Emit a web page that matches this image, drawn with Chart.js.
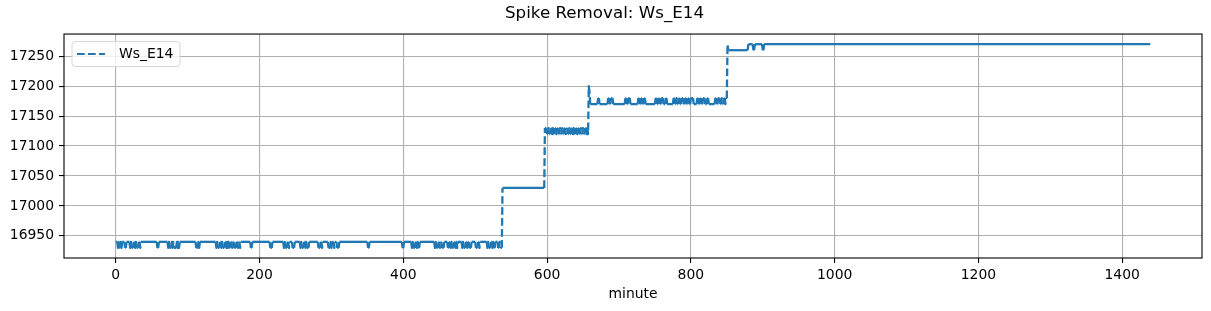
<!DOCTYPE html>
<html>
<head>
<meta charset="utf-8">
<script src="https://cdn.jsdelivr.net/npm/chart.js@4.4.1/dist/chart.umd.min.js"></script>
<style>
  html, body { margin: 0; padding: 0; background: #fff; }
</style>
</head>
<body>
<canvas id="chart" width="1211" height="311"></canvas>
<script>
// Ws_E14 readings: the value holds from each minute until the next change
var stepMinute = [
  0, 3, 4, 5, 7, 8, 9, 13, 15,
  20, 21, 22, 25, 27, 28, 29, 32, 34, 35, 58, 60,
  73, 74, 75, 78, 79, 80, 81, 85, 86, 87, 88, 89,
  112, 115, 116, 117,
  140, 141, 142, 145, 147, 148, 149, 152, 154, 155, 156,
  157, 158, 160, 162, 163, 165, 168, 170, 171, 173, 174,
  188, 190, 215, 218,
  234, 235, 236, 239, 241, 242, 246, 249,
  257, 258, 259, 262, 264, 265, 266, 269,
  282, 285, 287, 288,
  296, 299, 300, 301, 304, 305, 308, 311,
  351, 353, 399, 401,
  412, 413, 414, 417, 419, 420, 421, 423,
  444, 445, 446, 449, 451, 452, 454, 457,
  462, 464, 466, 467, 468, 471, 473, 474, 475, 476,
  482, 483, 484, 487, 489, 490, 492, 495,
  501, 504, 506, 507,
  517, 518, 519, 522, 524, 525, 526, 528,
  532, 534, 535,
  538,
  597, 600, 602, 603, 605, 607, 608, 609, 611, 613,
  614, 616, 618, 619, 621, 622, 624, 626, 627, 629,
  631, 632, 634, 636, 637, 638, 640, 642, 643, 645,
  647, 648, 650, 651, 653, 655, 656, 657,
  658, 659, 660,
  671, 673, 685, 687, 689, 692, 709, 711, 713, 716,
  727, 729, 731, 733, 735, 737, 751, 753, 755, 757,
  759, 762, 765, 767, 776, 778, 780, 781, 783, 785,
  787, 790, 792, 794, 796, 798, 800, 804, 809, 811,
  813, 815, 817, 820, 823, 825, 834, 836, 838, 841,
  843, 844, 846, 848, 849,
  851, 852, 880, 887, 889, 900, 902
];
var stepValue = [
  16940, 16930, 16940, 16930, 16940, 16930, 16940, 16930, 16940,
  16930, 16940, 16930, 16940, 16930, 16940, 16930, 16940, 16930, 16940, 16930, 16940,
  16930, 16940, 16930, 16940, 16930, 16940, 16930, 16940, 16930, 16940, 16930, 16940,
  16930, 16940, 16930, 16940,
  16930, 16940, 16930, 16940, 16930, 16940, 16930, 16940, 16930, 16940, 16930,
  16940, 16930, 16940, 16930, 16940, 16930, 16940, 16930, 16940, 16930, 16940,
  16930, 16940, 16930, 16940,
  16930, 16940, 16930, 16940, 16930, 16940, 16930, 16940,
  16930, 16940, 16930, 16940, 16930, 16940, 16930, 16940,
  16930, 16940, 16930, 16940,
  16930, 16940, 16930, 16940, 16930, 16940, 16930, 16940,
  16930, 16940, 16930, 16940,
  16930, 16940, 16930, 16940, 16930, 16940, 16930, 16940,
  16930, 16940, 16930, 16940, 16930, 16940, 16930, 16940,
  16930, 16940, 16930, 16940, 16930, 16940, 16930, 16940, 16930, 16940,
  16930, 16940, 16930, 16940, 16930, 16940, 16930, 16940,
  16930, 16940, 16930, 16940,
  16930, 16940, 16930, 16940, 16930, 16940, 16930, 16940,
  16930, 16940, 16930,
  17030,
  17130, 17120, 17130, 17120, 17130, 17120, 17130, 17120, 17130, 17120,
  17130, 17120, 17130, 17120, 17130, 17120, 17130, 17120, 17130, 17120,
  17130, 17120, 17130, 17120, 17130, 17120, 17130, 17120, 17130, 17120,
  17130, 17120, 17130, 17120, 17130, 17120, 17130, 17120,
  17200, 17190, 17170,
  17180, 17170, 17180, 17170, 17180, 17170, 17180, 17170, 17180, 17170,
  17180, 17170, 17180, 17170, 17180, 17170, 17180, 17170, 17180, 17170,
  17180, 17170, 17180, 17170, 17180, 17170, 17180, 17170, 17180, 17170,
  17180, 17170, 17180, 17170, 17180, 17170, 17180, 17170, 17180, 17170,
  17180, 17170, 17180, 17170, 17180, 17170, 17180, 17170, 17180, 17170,
  17180, 17170, 17180, 17170, 17180,
  17270, 17260, 17270, 17260, 17270, 17260, 17270
];
var lastMinute = 1439;

var xTicks = [0, 200, 400, 600, 800, 1000, 1200, 1400];
var yTicks = [16950, 17000, 17050, 17100, 17150, 17200, 17250];

// turn the runs into points: start and end of every run
var points = [];
for (var i = 0; i < stepMinute.length; i++) {
  var start = stepMinute[i];
  var end = i + 1 < stepMinute.length ? stepMinute[i + 1] - 1 : lastMinute;
  points.push({ x: start, y: stepValue[i] });
  if (end > start) points.push({ x: end, y: stepValue[i] });
}

var blue = '#1f77b4';
var dash = [7.7, 3.3];

var framePlugin = {
  id: 'frame',
  afterDatasetsDraw: function (chart) {
    var a = chart.chartArea, ctx = chart.ctx;
    ctx.save();
    ctx.strokeStyle = '#000';
    ctx.lineWidth = 1.1;
    ctx.strokeRect(a.left, a.top, a.right - a.left, a.bottom - a.top);
    ctx.restore();
  }
};

var legendPlugin = {
  id: 'insideLegend',
  afterDraw: function (chart) {
    var a = chart.chartArea, ctx = chart.ctx;
    var x = a.left + 8, y = a.top + 7.5, w = 108, h = 25;
    ctx.save();
    ctx.beginPath();
    ctx.roundRect(x, y, w, h, 3);
    ctx.fillStyle = 'rgba(255,255,255,0.8)';
    ctx.fill();
    ctx.strokeStyle = '#d6d6d6';
    ctx.lineWidth = 1;
    ctx.stroke();
    ctx.beginPath();
    ctx.setLineDash(dash);
    ctx.strokeStyle = blue;
    ctx.lineWidth = 2.1;
    ctx.moveTo(x + 5, y + 12.5);
    ctx.lineTo(x + 33, y + 12.5);
    ctx.stroke();
    ctx.setLineDash([]);
    ctx.fillStyle = '#000';
    ctx.font = '13.9px "DejaVu Sans"';
    ctx.textBaseline = 'middle';
    ctx.fillText(chart.data.datasets[0].label, x + 47, y + 12.5);
    ctx.restore();
  }
};

Chart.defaults.font.family = '"DejaVu Sans", sans-serif';
Chart.defaults.color = '#000';

new Chart(document.getElementById('chart'), {
  type: 'line',
  data: {
    datasets: [{
      label: 'Ws_E14',
      data: points,
      borderColor: blue,
      borderWidth: 2.3,
      borderDash: dash,
      borderJoinStyle: 'round',
      pointRadius: 0,
      tension: 0,
      fill: false,
      segment: {
        borderDash: function (c) { return c.p0.parsed.y === c.p1.parsed.y ? [] : undefined; }
      }
    }]
  },
  options: {
    responsive: false,
    animation: false,
    devicePixelRatio: 1,
    layout: { padding: { left: 7, right: 9, top: 0, bottom: 0 } },
    plugins: {
      legend: { display: false },
      tooltip: { enabled: false },
      title: {
        display: true,
        text: 'Spike Removal: Ws_E14',
        color: '#000',
        font: { size: 16.7, weight: 'normal' },
        padding: { top: 4, bottom: 10 }
      }
    },
    scales: {
      x: {
        type: 'linear',
        min: -72,
        max: 1511,
        afterBuildTicks: function (s) { s.ticks = xTicks.map(function (v) { return { value: v }; }); },
        afterFit: function (s) { s.height = 53; },
        border: { display: false },
        grid: { color: '#b0b0b0', lineWidth: 1.1, tickColor: '#000', tickWidth: 1.1, tickLength: 5 },
        ticks: { font: { size: 13.9 }, padding: 4, maxRotation: 0, autoSkip: false,
                 callback: function (v) { return String(v); } },
        title: { display: true, text: 'minute', font: { size: 13.9 }, padding: { top: 0, bottom: 8 } }
      },
      y: {
        type: 'linear',
        min: 16913,
        max: 17287,
        afterBuildTicks: function (s) { s.ticks = yTicks.map(function (v) { return { value: v }; }); },
        afterFit: function (s) { s.width = 57; },
        border: { display: false },
        grid: { color: '#b0b0b0', lineWidth: 1.1, tickColor: '#000', tickWidth: 1.1, tickLength: 5 },
        ticks: { font: { size: 13.9 }, padding: 5, autoSkip: false,
                 callback: function (v) { return String(v); } }
      }
    }
  },
  plugins: [framePlugin, legendPlugin]
});
</script>
</body>
</html>
